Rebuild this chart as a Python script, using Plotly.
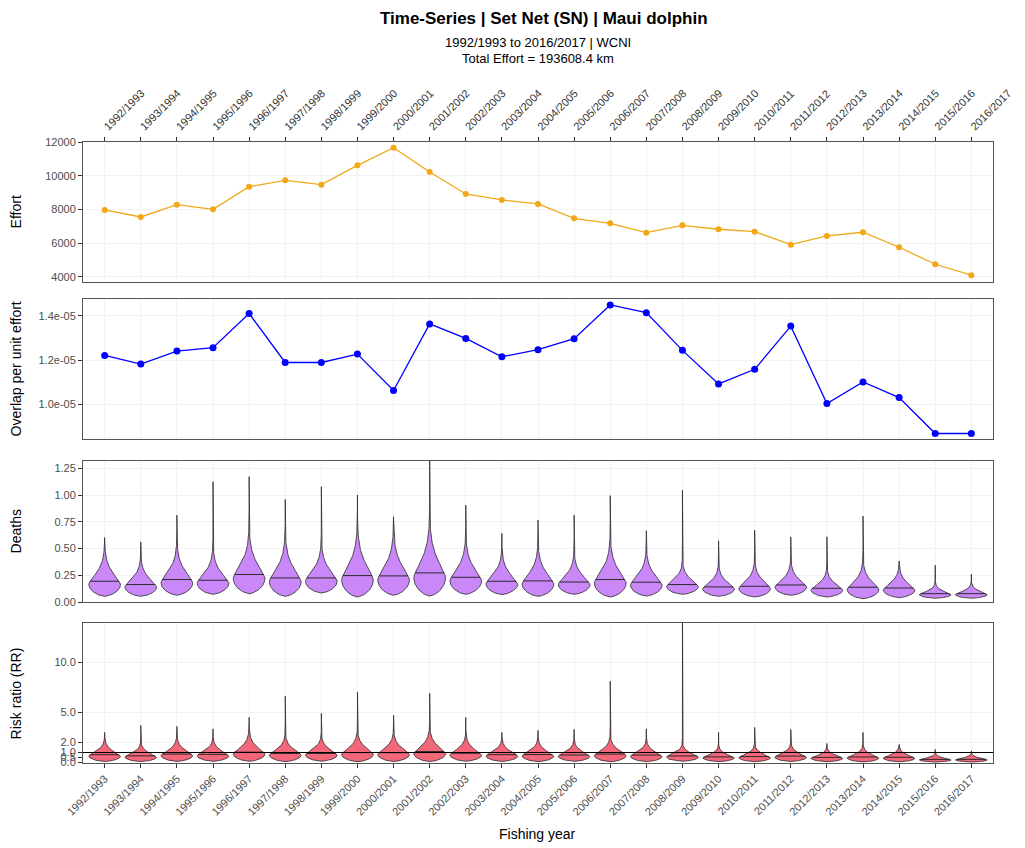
import numpy as np
import plotly.graph_objects as go

years = ["1992/1993", "1993/1994", "1994/1995", "1995/1996", "1996/1997", "1997/1998",
         "1998/1999", "1999/2000", "2000/2001", "2001/2002", "2002/2003", "2003/2004",
         "2004/2005", "2005/2006", "2006/2007", "2007/2008", "2008/2009", "2009/2010",
         "2010/2011", "2011/2012", "2012/2013", "2013/2014", "2014/2015", "2015/2016",
         "2016/2017"]

effort = [7970, 7556, 8286, 8010, 9353, 9729, 9472, 10617, 11664, 10222, 8919, 8563,
          8326, 7478, 7180, 6625, 7062, 6826, 6686, 5915, 6430, 6650, 5760, 4752, 4101]
effort_ticks = [4000, 6000, 8000, 10000, 12000]

overlap = [1.221e-5, 1.182e-5, 1.241e-5, 1.256e-5, 1.411e-5, 1.189e-5, 1.189e-5, 1.227e-5,
           1.062e-5, 1.364e-5, 1.298e-5, 1.215e-5, 1.247e-5, 1.297e-5, 1.450e-5, 1.415e-5,
           1.244e-5, 1.092e-5, 1.158e-5, 1.354e-5, 1.003e-5, 1.101e-5, 1.030e-5, 0.867e-5,
           0.867e-5]
overlap_ticks = [1.0e-5, 1.2e-5, 1.4e-5]
overlap_ticktext = ["1.0e-05", "1.2e-05", "1.4e-05"]

deaths_min = [0.053, 0.053, 0.063, 0.072, 0.078, 0.053, 0.084, 0.047, 0.063, 0.056, 0.072,
              0.069, 0.053, 0.072, 0.047, 0.056, 0.072, 0.053, 0.047, 0.063, 0.047, 0.031,
              0.041, 0.035, 0.035]
deaths_med = [0.194, 0.163, 0.210, 0.203, 0.257, 0.225, 0.225, 0.247, 0.244, 0.272, 0.231,
              0.194, 0.197, 0.187, 0.210, 0.185, 0.163, 0.141, 0.147, 0.159, 0.128, 0.138,
              0.131, 0.078, 0.078]
deaths_max = [0.603, 0.562, 0.812, 1.125, 1.171, 0.959, 1.078, 1.000, 0.797, 1.450, 0.906,
              0.641, 0.766, 0.812, 0.994, 0.666, 1.047, 0.572, 0.672, 0.609, 0.609, 0.803,
              0.384, 0.344, 0.260]
deaths_ticks = [0, 0.25, 0.5, 0.75, 1.0, 1.25]
deaths_ticktext = ["0.00", "0.25", "0.50", "0.75", "1.00", "1.25"]

rr_min = [0.10, 0.09, 0.11, 0.12, 0.12, 0.09, 0.13, 0.08, 0.10, 0.09, 0.12, 0.11, 0.09,
          0.12, 0.08, 0.09, 0.12, 0.09, 0.08, 0.10, 0.08, 0.06, 0.07, 0.05, 0.05]
rr_med = [0.78, 0.66, 0.84, 0.81, 1.03, 0.90, 0.90, 0.99, 0.98, 1.09, 0.92, 0.78, 0.79,
          0.75, 0.84, 0.74, 0.65, 0.56, 0.59, 0.64, 0.51, 0.55, 0.52, 0.31, 0.31]
rr_max = [3.0, 3.7, 3.6, 3.35, 4.5, 6.6, 4.9, 7.0, 4.7, 6.9, 4.5, 3.0, 3.2, 3.3, 8.1,
          3.35, 16.0, 3.0, 3.5, 3.3, 1.9, 3.0, 1.8, 1.3, 1.15]
rr_ticks = [0, 0.5, 1, 2, 5, 10]
rr_ticktext = ["0.0", "0.5", "1.0", "2.0", "5.0", "10.0"]
rr_reference = 1.0

x_idx = list(range(len(years)))

FONT = "Liberation Sans, Arial, sans-serif"
EFFORT_COL = "#F0A818"
OVERLAP_COL = "#0000FF"
DEATH_FILL = "#C987F7"
RR_FILL = "#F2677A"
OUTLINE = "#2b2b2b"

fig = go.Figure()

fig.add_trace(go.Scatter(x=x_idx, y=effort, mode="lines+markers",
                         line=dict(color=EFFORT_COL, width=1.3),
                         marker=dict(color=EFFORT_COL, size=6),
                         xaxis="x", yaxis="y", showlegend=False))
fig.add_trace(go.Scatter(x=x_idx, y=overlap, mode="lines+markers",
                         line=dict(color=OVERLAP_COL, width=1.3),
                         marker=dict(color=OVERLAP_COL, size=7),
                         xaxis="x2", yaxis="y2", showlegend=False))


def violin_outline(center, lo, med, hi, half_w=0.44, n=260):
    peak = med - 0.2 * (med - lo)
    s = (med - lo)
    ys = np.linspace(lo, hi, n)
    ws = np.zeros_like(ys)
    below = ys <= peak
    r = (peak - ys[below]) / (peak - lo)
    ws[below] = half_w * np.clip(1 - r ** 2, 0, 1) ** 0.65
    d = ys[~below] - peak
    ws[~below] = half_w * np.exp(-(d / s) ** 1.5)
    xs = np.concatenate([center - ws, (center + ws)[::-1], [center - ws[0]]])
    yy = np.concatenate([ys, ys[::-1], [ys[0]]])
    wmed = half_w * np.exp(-((med - peak) / s) ** 1.5)
    return xs, yy, wmed


def add_violins(mins, meds, maxs, fill, xa, ya):
    for i in x_idx:
        xs, yy, wm = violin_outline(i, mins[i], meds[i], maxs[i])
        fig.add_trace(go.Scatter(x=xs, y=yy, mode="lines", fill="toself",
                                 fillcolor=fill, line=dict(color=OUTLINE, width=0.8),
                                 xaxis=xa, yaxis=ya, showlegend=False, hoverinfo="skip"))
        fig.add_trace(go.Scatter(x=[i - wm, i + wm], y=[meds[i], meds[i]], mode="lines",
                                 line=dict(color=OUTLINE, width=1),
                                 xaxis=xa, yaxis=ya, showlegend=False, hoverinfo="skip"))


add_violins(deaths_min, deaths_med, deaths_max, DEATH_FILL, "x3", "y3")
add_violins(rr_min, rr_med, rr_max, RR_FILL, "x4", "y4")

xr = [-0.6, 24.6]
fig.add_trace(go.Scatter(x=xr, y=[rr_reference, rr_reference], mode="lines",
                         line=dict(color="black", width=1.1),
                         xaxis="x4", yaxis="y4", showlegend=False, hoverinfo="skip"))

W, H = 1025, 848
ml, mr, mt, mb = 83, 13, 142, 85
ph = H - mt - mb
pw = W - ml - mr


def dom(top_px, bot_px):
    return [(H - mb - bot_px) / ph, (H - mb - top_px) / ph]


def ypaper(px):
    return (H - mb - px) / ph


def xpaper(px):
    return (px - ml) / pw


grid = "#F2F2F2"
axis_common = dict(showline=True, linecolor="#555555", linewidth=1, mirror=True,
                   gridcolor=grid, zeroline=False, ticks="outside", ticklen=4,
                   tickcolor="#333333", tickfont=dict(family=FONT, size=11, color="#4D4D4D"))

xcommon = dict(axis_common, range=xr, tickvals=x_idx, ticktext=years)

fig.update_layout(
    width=W, height=H,
    margin=dict(l=ml, r=mr, t=mt, b=mb),
    paper_bgcolor="white", plot_bgcolor="white",
    showlegend=False,
    font=dict(family=FONT, color="#222222"),
    xaxis=dict(xcommon, anchor="y", side="top", tickangle=-45, showticklabels=True,
               ticklabeloverflow="allow",
               tickfont=dict(family=FONT, size=11, color="#333333")),
    xaxis2=dict(xcommon, anchor="y2", showticklabels=False, ticks=""),
    xaxis3=dict(xcommon, anchor="y3", showticklabels=False, ticks=""),
    xaxis4=dict(xcommon, anchor="y4", tickangle=-45,
                tickfont=dict(family=FONT, size=11, color="#4D4D4D")),
    yaxis=dict(axis_common, anchor="x", domain=dom(142, 282), range=[3700, 12000],
               tickvals=effort_ticks, ticktext=[str(v) for v in effort_ticks]),
    yaxis2=dict(axis_common, anchor="x2", domain=dom(299, 439), range=[0.842e-5, 1.477e-5],
                tickvals=overlap_ticks, ticktext=overlap_ticktext),
    yaxis3=dict(axis_common, anchor="x3", domain=dom(461, 602), range=[0, 1.318],
                tickvals=deaths_ticks, ticktext=deaths_ticktext),
    yaxis4=dict(axis_common, anchor="x4", domain=dom(623, 763), range=[-0.05, 13.9],
                tickvals=rr_ticks, ticktext=rr_ticktext),
)

ann = []


def add_ann(text, xpx, ypx, size, angle=0):
    ann.append(dict(text=text, x=xpaper(xpx), y=ypaper(ypx), xref="paper", yref="paper",
                    xanchor="center", yanchor="middle", showarrow=False, textangle=angle,
                    font=dict(family=FONT, size=size, color="black")))


add_ann("<b>Time-Series | Set Net (SN) | Maui dolphin</b>", 554, 18, 17)
add_ann("1992/1993 to 2016/2017 | WCNI", 547, 43, 13)
add_ann("Total Effort = 193608.4 km", 547, 58, 13)
add_ann("Fishing year", 547, 834, 14)
for txt, ypx in [("Effort", 212), ("Overlap per unit effort", 369), ("Deaths", 531),
                 ("Risk ratio (RR)", 693)]:
    add_ann(txt, 15, ypx, 14, -90)
fig.update_layout(annotations=ann)

fig.write_html("out.html", config={"displayModeBar": False},
               post_script="document.body.style.margin='0px';document.body.style.overflow='hidden';")
